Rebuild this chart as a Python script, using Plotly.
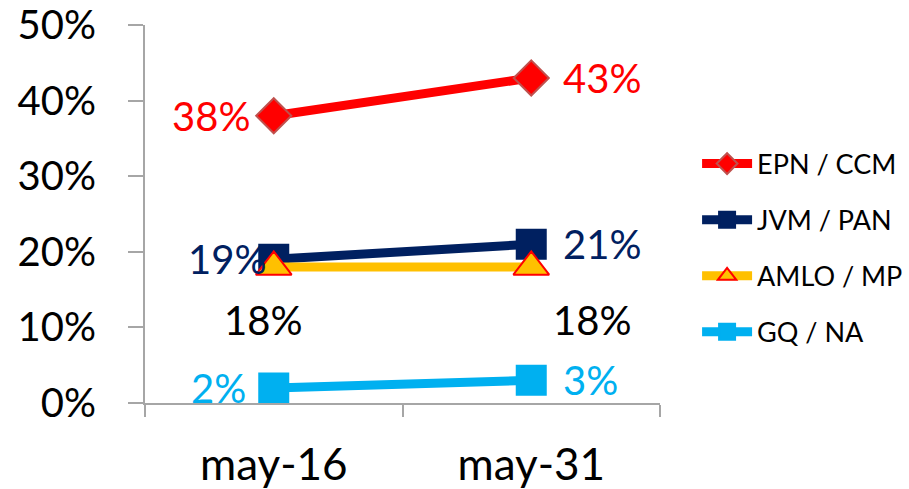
import plotly.graph_objects as go

categories = ["may-16", "may-31"]
series_names = ["EPN / CCM", "JVM / PAN", "AMLO / MP", "GQ / NA"]
epn = [0.38, 0.43]
jvm = [0.19, 0.21]
amlo = [0.18, 0.18]
gq = [0.02, 0.03]
y_ticks = [0, 0.1, 0.2, 0.3, 0.4, 0.5]

FONT = "Lato, Calibri, sans-serif"
AXIS = "#A6A6A6"

styles = [
    dict(data=epn, color="#FF0000", symbol="diamond", msize=27, mline="#C0504D", label_color="#FF0000"),
    dict(data=jvm, color="#002060", symbol="square", msize=29, mline="#002060", label_color="#002060"),
    dict(data=amlo, color="#FFC000", symbol="triangle-up", msize=31, mline="#FF0000", label_color="#000000"),
    dict(data=gq, color="#00B0F0", symbol="square", msize=29, mline="#00B0F0", label_color="#00B0F0"),
]

fig = go.Figure()
for name, s in zip(series_names, styles):
    fig.add_trace(go.Scatter(
        x=categories, y=s["data"], name=name, mode="lines+markers",
        legendgroup=name,
        line=dict(color=s["color"], width=9),
        marker=dict(symbol=s["symbol"], size=s["msize"], color=s["color"],
                    line=dict(color=s["mline"], width=2)),
        hoverinfo="skip",
    ))

# label offsets (pixels) per series per point: (xanchor, xshift, yshift)
offsets = [
    [("right", -22, 0), ("left", 30, 0)],
    [("right", -6, 0), ("left", 30, 0)],
    [("center", -11, -53), ("center", 61, -53)],
    [("right", -26, 0), ("left", 30, 0)],
]
for s, offs in zip(styles, offsets):
    for cat, val, (xa, xs, ys) in zip(categories, s["data"], offs):
        fig.add_annotation(
            x=cat, y=val, xref="x", yref="y", text=f"{round(val*100)}%",
            showarrow=False, xanchor=xa, yanchor="middle", xshift=xs, yshift=ys,
            font=dict(family=FONT, size=40, color=s["label_color"]),
        )

fig.update_layout(
    width=909, height=489,
    margin=dict(l=145, r=249, t=25, b=86, autoexpand=False),
    paper_bgcolor="white", plot_bgcolor="white",
    font=dict(family=FONT, color="black"),
    showlegend=True,
    legend=dict(
        x=1.072, xanchor="left", y=0.41, yanchor="middle",
        font=dict(family=FONT, size=27, color="black"),
        tracegroupgap=18, itemwidth=50,
    ),
)
fig.update_xaxes(
    type="category", range=[-0.5, 1.5], automargin=False,
    showline=True, linecolor=AXIS, linewidth=2,
    ticks="outside", tickson="boundaries", ticklen=12, tickcolor=AXIS, tickwidth=2,
    ticklabelstandoff=22, ticklabeloverflow="allow",
    tickfont=dict(family=FONT, size=44, color="black"),
    showgrid=False, zeroline=False,
)
fig.update_yaxes(
    range=[0, 0.5], tickvals=y_ticks, tickformat=".0%", automargin=False,
    showline=True, linecolor=AXIS, linewidth=2,
    ticks="outside", ticklen=15, tickcolor=AXIS, tickwidth=2,
    ticklabelstandoff=24, ticklabeloverflow="allow",
    tickfont=dict(family=FONT, size=40, color="black"),
    showgrid=False, zeroline=False,
)

fig.write_html("out.html", config={"displayModeBar": False},
               post_script="document.body.style.margin='0';")
